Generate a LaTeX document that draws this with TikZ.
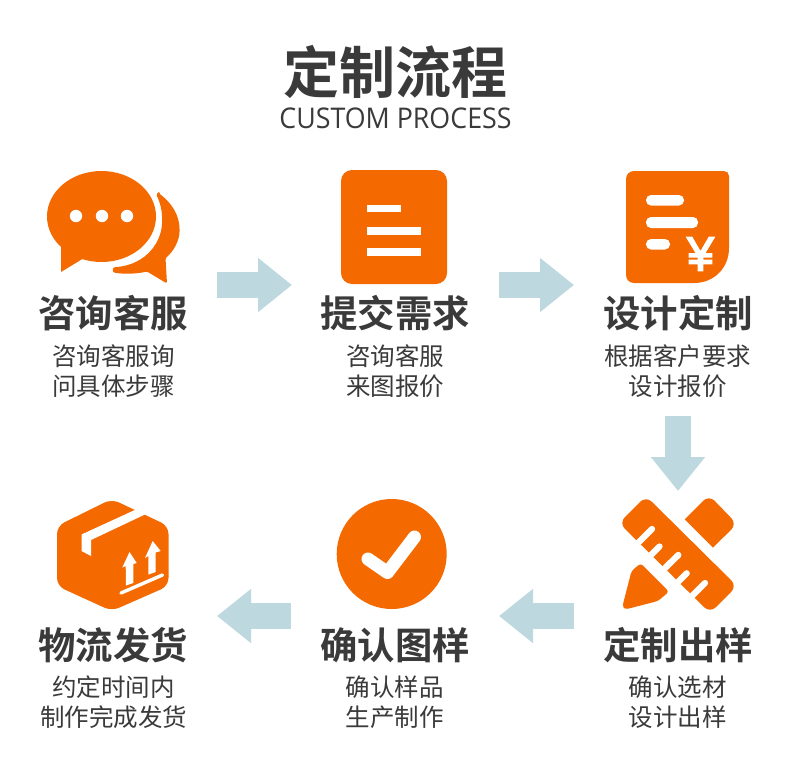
\documentclass[tikz,border=0pt]{standalone}
\usepackage{fontspec}
\usetikzlibrary{arrows.meta}
\setmainfont{Noto Sans CJK SC}
\newfontfamily\cjkheavy{Noto Sans CJK SC Bold}
\newfontfamily\cjkreg{Noto Sans CJK SC}
\newfontfamily\latinf{Open Sans}
\newfontfamily\yenf{Liberation Sans}[FakeBold=3.5]
\definecolor{orangeicon}{HTML}{F46A00}
\definecolor{flowarrow}{HTML}{BDD9DF}
\definecolor{inktext}{HTML}{3A3A3A}
\tikzset{
  titletext/.style={text=inktext,font=\cjkheavy\fontsize{56}{60}\selectfont,inner sep=0pt},
  subtitletext/.style={text=inktext,font=\latinf\fontsize{28.5}{32}\selectfont,inner sep=0pt,xscale=0.94},
  steplabel/.style={text=inktext,font=\cjkheavy\fontsize{37.4}{42}\selectfont,inner sep=0pt},
  stepnote/.style={text=inktext,font=\cjkreg\fontsize{24.5}{30}\selectfont,inner sep=0pt,align=center},
  flowline/.style={draw=flowarrow,line width=26pt,-{Triangle[length=34pt,width=52pt,fill=flowarrow]}},
  iconfill/.style={fill=orangeicon,draw=none},
  iconwhite/.style={fill=white,draw=none},
  whitestroke/.style={draw=white,line cap=round},
}
\begin{document}
\begin{tikzpicture}[x=1pt,y=-1pt]
\useasboundingbox[fill=white] (0,0) rectangle (790,782);

\node[titletext] (title) at (395,72) {定制流程};
\node[subtitletext] (subtitle) at (395.5,118) {CUSTOM PROCESS};

% icon 1: chat bubbles
\fill[iconfill] (101.5,216.5) ellipse [x radius=54.5,y radius=45.5];
\fill[iconfill] (61,240) -- (61,272) -- (84,258) -- (100,250) -- cycle;
\foreach \px in {76,102,127} \fill[white] (\px,216) circle (6.2);
\fill[iconfill,rounded corners=1.5pt] (159,193.5)
  .. controls (172,203) and (179.5,216) .. (179.5,230)
  .. controls (179.5,241) and (173,252) .. (165.5,258)
  -- (167,283.5) -- (147,271.5)
  .. controls (136,274) and (125,274) .. (116,273)
  .. controls (112,272) and (112,267) .. (117,267)
  .. controls (145,264) and (163,243) .. (162,218)
  .. controls (162,210) and (160,203) .. (157.5,197)
  .. controls (156.5,195) and (157.5,193) .. (159,193.5) -- cycle;

% icon 2: document
\fill[iconfill,rounded corners=11pt] (341,170) rectangle (447,284);
\fill[iconwhite] (367,205) rectangle (401,212);
\fill[iconwhite] (367,227) rectangle (420.5,234.5);
\fill[iconwhite] (367,248) rectangle (420.5,255.5);

% icon 3: quote sheet
\fill[iconfill] (634,171) -- (724,171) arc[start angle=-90,end angle=0,radius=5] -- (729,248)
  .. controls (729,268) and (714,283) .. (694,283) -- (634,283)
  arc[start angle=90,end angle=180,radius=8] -- (626,179)
  arc[start angle=180,end angle=270,radius=8] -- cycle;
\fill[iconwhite,rounded corners=5pt] (646,195) rectangle (684,205.5);
\fill[iconwhite,rounded corners=5pt] (646,217) rectangle (698,228);
\fill[iconwhite,rounded corners=5pt] (646,239) rectangle (670,249.5);
\node[text=white,font=\yenf\fontsize{48}{48}\selectfont,inner sep=0pt] (yen) at (700.5,254) {¥};

% icon 4: ruler and pencil
\fill[iconfill] (684.7,519.3) [rounded corners=8pt] -- (709,495) -- (737,524) [sharp corners] -- (713,547.5) -- cycle;
\fill[iconfill,rounded corners=8pt] (619,523) -- (646,496) -- (737,586) -- (710,613) -- cycle;
\draw[whitestroke,line width=6.3pt] (632,549) -- (652,529);
\draw[whitestroke,line width=6.3pt] (645,561) -- (659.5,546.5);
\draw[whitestroke,line width=6.3pt] (658,575) -- (678.3,555);
\draw[whitestroke,line width=6.3pt] (671,589) -- (686.7,573.3);
\draw[whitestroke,line width=6.3pt] (685,603) -- (705,583);
\fill[iconfill,rounded corners=3pt] (640.7,563.3) -- (669,591.7) -- (658,601) -- (625,609.5) -- (622.5,606) -- (631.5,571) -- cycle;

% icon 5: check
\fill[iconfill] (391.7,554) circle (55);
\draw[whitestroke,line width=13pt,line join=round] (368,559) -- (387.5,572.5) -- (414.5,537);

% icon 6: box
\fill[iconfill,rounded corners=8pt] (111.7,499) -- (168.5,526) -- (168.5,586) -- (111.7,611) -- (57,586) -- (57,526) -- cycle;
\fill[iconwhite] (137,509) -- (81.5,534.5) -- (81.5,551) -- (91,556) -- (91,540) -- (146,514) -- cycle;
\fill[iconwhite] (129.5,552) -- (136.7,563) -- (133.3,564) -- (133.3,583) -- (126,585.5) -- (125.7,566) -- (122.3,567.5) -- cycle;
\fill[iconwhite] (152.7,541) -- (160.7,551) -- (155.7,552.5) -- (155.7,572) -- (148.5,574.5) -- (148.3,556) -- (145,558) -- cycle;
\draw[whitestroke,line width=3.4pt] (121,593) -- (162.5,575);

% labels
\node[steplabel] (l1) at (113,313) {咨询客服};
\node[stepnote] (n1) at (113.5,371) {咨询客服询\\问具体步骤};
\node[steplabel] (l2) at (395,313) {提交需求};
\node[stepnote] (n2) at (395,371) {咨询客服\\来图报价};
\node[steplabel] (l3) at (678,313) {设计定制};
\node[stepnote] (n3) at (677.5,371) {根据客户要求\\设计报价};
\node[steplabel] (l4) at (678,645) {定制出样};
\node[stepnote] (n4) at (677.5,702) {确认选材\\设计出样};
\node[steplabel] (l5) at (395,645) {确认图样};
\node[stepnote] (n5) at (394.5,702) {确认样品\\生产制作};
\node[steplabel] (l6) at (113,645) {物流发货};
\node[stepnote] (n6) at (113.5,702) {约定时间内\\制作完成发货};

% flow arrows
\coordinate (a1s) at (217,285); \coordinate (a1e) at (292,285);
\coordinate (a2s) at (499,285); \coordinate (a2e) at (574,285);
\coordinate (a3s) at (678,416); \coordinate (a3e) at (678,491);
\coordinate (a4s) at (574,616); \coordinate (a4e) at (499,616);
\coordinate (a5s) at (291,616); \coordinate (a5e) at (217,616);
\draw[flowline] (a1s) -- (a1e);
\draw[flowline] (a2s) -- (a2e);
\draw[flowline] (a3s) -- (a3e);
\draw[flowline] (a4s) -- (a4e);
\draw[flowline] (a5s) -- (a5e);
\end{tikzpicture}
\end{document}
